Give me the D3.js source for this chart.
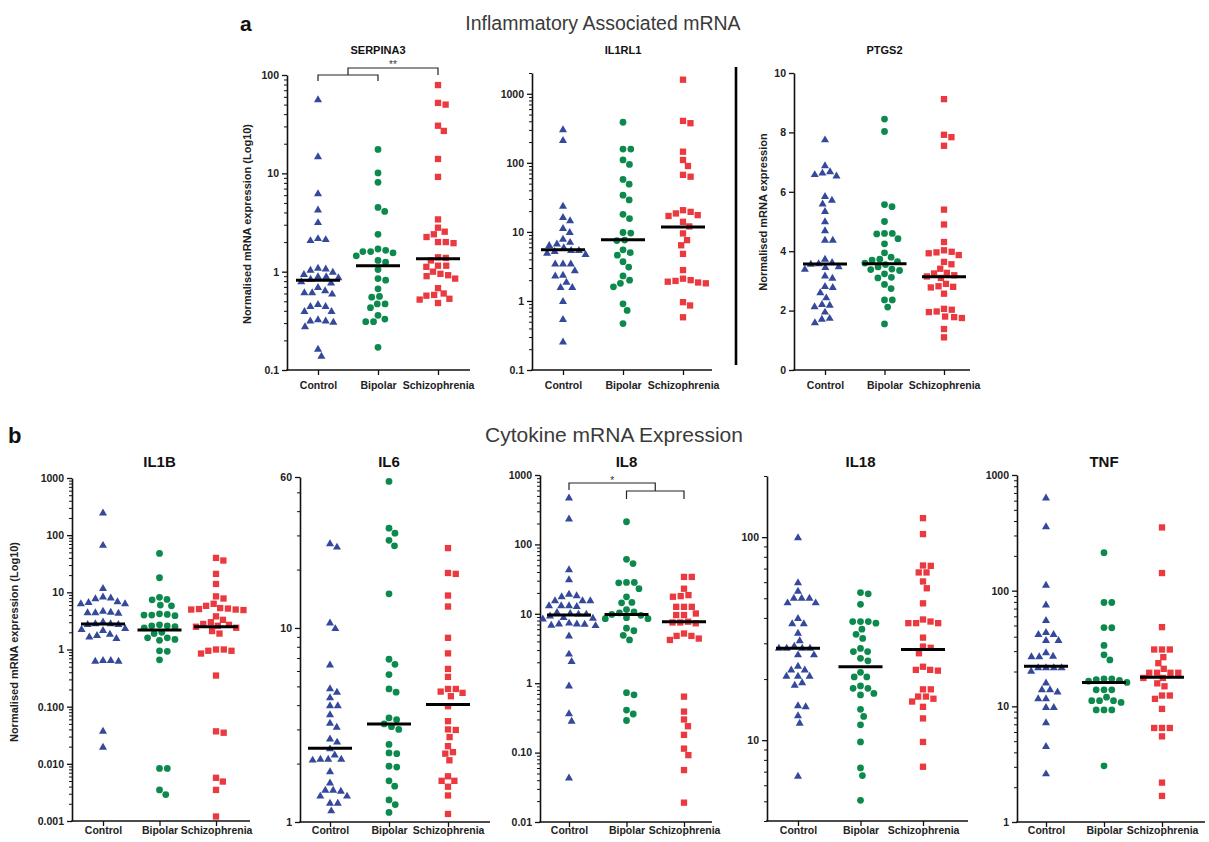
<!DOCTYPE html>
<html>
<head>
<meta charset="utf-8">
<script src="https://cdn.jsdelivr.net/npm/d3@7"></script>
<style>
  html, body { margin: 0; padding: 0; background: #fff; }
  svg { display: block; font-family: "Liberation Sans", Arial, sans-serif; }
</style>
</head>
<body>
<script>
// ---------------- DATA ----------------
const groups = ["Control", "Bipolar", "Schizophrenia"];

const SERPINA3_Control = [57, 15, 6.3, 4.3, 3.2, 2.2, 2.1, 2.15, 1.1, 1.08, 1.05, 1.0, 0.95, 0.9, 0.9, 0.88, 0.85, 0.8, 0.78, 0.7, 0.65, 0.62, 0.62, 0.6, 0.47, 0.45, 0.45, 0.4, 0.4, 0.33, 0.32, 0.32, 0.31, 0.28, 0.165, 0.14];
const SERPINA3_Bipolar = [17.5, 10.1, 8.1, 4.5, 4.1, 2.4, 1.7, 1.65, 1.6, 1.6, 1.55, 1.45, 1.3, 1.25, 1.05, 0.85, 0.82, 0.67, 0.56, 0.55, 0.47, 0.47, 0.43, 0.36, 0.33, 0.31, 0.31, 0.17];
const SERPINA3_Schizophrenia = [79, 52, 50, 30.5, 27, 14, 9.2, 3.4, 2.8, 2.55, 2.4, 2.25, 2.0, 2.0, 1.95, 1.4, 1.38, 1.3, 1.15, 1.15, 1.12, 1.0, 0.95, 0.92, 0.9, 0.85, 0.68, 0.6, 0.58, 0.57, 0.53, 0.52, 0.48];
const SERPINA3_medians = [0.82, 1.15, 1.35];
const SERPINA3_ticks = [0.1, 1, 10, 100];
const SERPINA3_tickLabels = ["0.1", "1", "10", "100"];

const IL1RL1_Control = [307, 215, 24, 16.5, 14.8, 11.4, 10, 8, 7.2, 6.8, 6.5, 6, 5.5, 5.5, 5.3, 5, 4.8, 3.5, 3.5, 3.5, 2.8, 2.4, 2.35, 1.9, 1.6, 1.6, 1.0, 0.55, 0.26];
const IL1RL1_Bipolar = [387, 158, 158, 110, 95, 57.5, 49, 34, 29, 18, 15.6, 9.8, 9.6, 7.6, 7.5, 5.5, 5, 4.6, 3.7, 3.1, 2.3, 2.0, 1.8, 1.6, 0.91, 0.73, 0.47];
const IL1RL1_Schizophrenia = [1600, 405, 375, 145, 110, 90, 67, 63, 20.6, 19.5, 18.5, 17.5, 17, 14, 12, 9.5, 7.6, 6.4, 4.8, 2.8, 2.1, 2.0, 1.9, 1.85, 1.8, 1.95, 0.96, 0.86, 0.58];
const IL1RL1_medians = [5.5, 7.7, 11.8];
const IL1RL1_ticks = [0.1, 1, 10, 100, 1000];
const IL1RL1_tickLabels = ["0.1", "1", "10", "100", "1000"];

const PTGS2_Control = [7.77, 6.9, 6.7, 6.65, 6.6, 6.55, 5.86, 5.74, 5.61, 5.36, 5.01, 4.71, 4.39, 4.39, 3.75, 3.64, 3.6, 3.58, 3.5, 3.47, 3.41, 3.19, 3.11, 2.83, 2.8, 2.62, 2.45, 2.2, 2.15, 2.23, 1.97, 1.76, 1.73, 1.61];
const PTGS2_Bipolar = [8.45, 8.03, 5.57, 5.5, 5.0, 4.6, 4.6, 4.58, 4.42, 4.25, 3.94, 3.8, 3.73, 3.7, 3.65, 3.6, 3.55, 3.47, 3.4, 3.38, 3.35, 3.24, 3.12, 3.1, 2.88, 2.74, 2.36, 2.36, 2.12, 1.55];
const PTGS2_Schizophrenia = [9.12, 7.92, 7.84, 7.55, 5.4, 4.9, 4.31, 4.03, 3.98, 3.96, 3.93, 3.87, 3.64, 3.56, 3.41, 3.27, 3.25, 3.19, 3.15, 3.1, 2.9, 2.82, 2.8, 2.78, 2.57, 2.06, 2.03, 1.97, 1.95, 1.8, 1.78, 1.75, 1.38, 1.1];
const PTGS2_medians = [3.57, 3.58, 3.14];
const PTGS2_ticks = [0, 2, 4, 6, 8, 10];
const PTGS2_tickLabels = ["0", "2", "4", "6", "8", "10"];

const IL1B_Control = [250, 68, 12, 8.5, 8.2, 7.9, 7, 6.8, 6.5, 6.5, 4.8, 4.6, 4.5, 4.5, 4.4, 3.1, 2.9, 2.9, 2.8, 2.8, 2.4, 2.3, 2.2, 1.9, 1.8, 1.7, 1.6, 0.66, 0.64, 0.64, 0.66, 0.038, 0.02];
const IL1B_Bipolar = [48, 18, 8.2, 7.5, 7.4, 6, 5.8, 4.2, 4.1, 4.0, 4.0, 3.9, 2.7, 2.6, 2.6, 2.5, 2.4, 2.0, 1.9, 1.6, 1.6, 1.5, 1.45, 0.95, 0.93, 0.66, 0.0083, 0.0083, 0.0035, 0.0029];
const IL1B_Schizophrenia = [40, 36, 21, 14, 8.5, 7.8, 6.3, 5.8, 5.3, 5.2, 5.1, 5.0, 5.0, 4.9, 3.8, 3.3, 3.0, 2.8, 2.7, 2.6, 2.5, 2.4, 2.1, 1.9, 1.0, 1.0, 0.95, 0.95, 0.85, 0.35, 0.037, 0.035, 0.0057, 0.0049, 0.0035, 0.0012];
const IL1B_medians = [2.8, 2.2, 2.5];
const IL1B_ticks = [0.001, 0.01, 0.1, 1, 10, 100, 1000];
const IL1B_tickLabels = ["0.001", "0.010", "0.100", "1", "10", "100", "1000"];

const IL6_Control = [27.4, 26.3, 10.7, 10, 6.5, 4.9, 4.7, 4.4, 4.0, 4.0, 3.6, 3.25, 3.1, 2.7, 2.6, 2.4, 2.23, 2.12, 2.12, 2.12, 2.1, 1.83, 1.6, 1.47, 1.47, 1.45, 1.37, 1.37, 1.26, 1.26, 1.15];
const IL6_Bipolar = [56.9, 32.7, 30.8, 28.3, 26.5, 15, 6.9, 6.5, 5.75, 4.85, 4.67, 3.44, 3.37, 3.2, 3.1, 3.0, 2.51, 2.27, 2.25, 1.94, 1.92, 1.63, 1.53, 1.3, 1.23, 1.12];
const IL6_Schizophrenia = [25.8, 19, 19.2, 14.7, 12.9, 8.9, 7.4, 6.15, 5.6, 4.85, 4.85, 4.63, 4.7, 4.45, 3.95, 3.31, 3.0, 2.98, 2.74, 2.46, 2.29, 2.25, 2.08, 1.72, 1.63, 1.63, 1.52, 1.37, 1.1];
const IL6_medians = [2.4, 3.2, 4.03];
const IL6_ticks = [1, 10, 60];
const IL6_tickLabels = ["1", "10", "60"];

const IL8_Control = [476, 237, 44, 31.6, 19.6, 18.6, 18, 15.7, 15.7, 15.7, 13.3, 13.3, 13.3, 13, 10.7, 10.3, 10.1, 10.1, 9.5, 9.0, 8.8, 8.6, 7.5, 7.3, 7.3, 7.2, 7, 6.9, 4.9, 2.68, 2.1, 0.93, 0.37, 0.29, 0.044];
const IL8_Bipolar = [212, 61, 53, 28.3, 28.3, 28, 23, 17.6, 14.4, 14.6, 11.5, 10.7, 10.3, 9.8, 9.5, 8.8, 8.5, 8.5, 6.2, 5.7, 4.9, 4.2, 0.73, 0.68, 0.41, 0.36, 0.29];
const IL8_Schizophrenia = [34, 34, 23, 18.6, 17.6, 18, 12.6, 12.6, 12.6, 10.1, 9.6, 9.6, 7.7, 7.5, 7.5, 7.3, 5.2, 4.8, 4.8, 4.4, 4.2, 0.64, 0.39, 0.3, 0.24, 0.18, 0.114, 0.092, 0.056, 0.019];
const IL8_medians = [9.6, 9.8, 7.7];
const IL8_ticks = [0.01, 0.1, 1, 10, 100, 1000];
const IL8_tickLabels = ["0.01", "0.10", "1", "10", "100", "1000"];

const IL18_Control = [100, 60, 54.5, 50.4, 50.4, 50.4, 47.8, 47.8, 40, 37.7, 37.7, 33.9, 31.1, 29.2, 28.6, 28.6, 28.6, 28.6, 26.5, 26.5, 23.3, 22.3, 22.3, 20.8, 20.8, 20.8, 19.3, 18.8, 14.9, 14.7, 13.3, 12.2, 6.7];
const IL18_Bipolar = [53.3, 52.6, 46.7, 38.4, 38.4, 38.4, 37.7, 35.2, 33.2, 31.7, 28.3, 27.3, 27.3, 25.3, 24.6, 21.6, 20.5, 20.5, 18.5, 18, 18, 17, 16.7, 14.2, 13.1, 11.9, 9.8, 7.3, 6.7, 5.06];
const IL18_Schizophrenia = [124, 103.5, 72.2, 72.5, 67, 67, 60.5, 56, 47.2, 39.3, 38.4, 37.7, 37.7, 37.7, 32, 28.9, 28.5, 26.8, 23, 22.2, 22.2, 22, 17.8, 17.8, 16.4, 16.4, 16, 15.5, 14.6, 12.8, 9.8, 7.4];
const IL18_medians = [28.4, 23.0, 28.0];
const IL18_ticks = [10, 100];
const IL18_tickLabels = ["10", "100"];

const TNF_Control = [640, 361, 113, 76, 56, 42.4, 42.4, 44, 37.6, 37.6, 29.4, 27.2, 27.2, 27.5, 21.8, 21.8, 21.8, 21.8, 20.4, 16.1, 14.1, 14.1, 13.5, 11.8, 11.8, 9.9, 9.9, 7.3, 4.56, 2.64];
const TNF_Bipolar = [213, 79, 79, 48, 47.8, 33.6, 27.9, 25.2, 17.3, 17.3, 17, 16.8, 16.5, 16.1, 13.9, 13.9, 13.9, 12, 11.2, 11.2, 11.2, 10.8, 9.3, 9.3, 9.3, 3.06];
const TNF_Schizophrenia = [352, 142, 48.4, 31, 31, 31, 26.6, 23.6, 21.1, 19.5, 19.5, 19.5, 19.5, 17.6, 17.6, 15.8, 14.9, 12.4, 12.4, 11.6, 9.5, 6.5, 6.5, 6.5, 5.5, 2.19, 1.68];
const TNF_medians = [22.2, 16.1, 17.8];
const TNF_ticks = [1, 10, 100, 1000];
const TNF_tickLabels = ["1", "10", "100", "1000"];

// ---------------- STYLE / LAYOUT ----------------
const colors = ["#35499c", "#0c8a4d", "#ea3a3f"];
const symbols = [d3.symbolTriangle, d3.symbolCircle, d3.symbolSquare];
const symSizes = [28, 36, 40];
const FONT = '"Liberation Sans", Arial, sans-serif';

const W = 1209, H = 842;
const svg = d3.select("body").append("svg").attr("width", W).attr("height", H);
svg.append("rect").attr("width", W).attr("height", H).attr("fill", "#fff");

const panels = [
  { title: "SERPINA3", data: [SERPINA3_Control, SERPINA3_Bipolar, SERPINA3_Schizophrenia], med: SERPINA3_medians,
    log: true, domain: [0.1, 100], range: [370, 75], ax: 287, xEnd: 470, c: [318, 438],
    ticks: SERPINA3_ticks, labels: SERPINA3_tickLabels, titleY: 54, titleSize: 11, catY: 390,
    ylabel: "Normalised mRNA expression (Log10)", ylabelX: 247, ylabelY: 224 },
  { title: "IL1RL1", data: [IL1RL1_Control, IL1RL1_Bipolar, IL1RL1_Schizophrenia], med: IL1RL1_medians,
    log: true, domain: [0.1, 2000], range: [370, 73], ax: 532, xEnd: 712, c: [563, 683],
    ticks: IL1RL1_ticks, labels: IL1RL1_tickLabels, titleY: 54, titleSize: 11, catY: 390 },
  { title: "PTGS2", data: [PTGS2_Control, PTGS2_Bipolar, PTGS2_Schizophrenia], med: PTGS2_medians,
    log: false, domain: [0, 10], range: [370, 73], ax: 794, xEnd: 970, c: [825, 944],
    ticks: PTGS2_ticks, labels: PTGS2_tickLabels, titleY: 54, titleSize: 11, catY: 390,
    ylabel: "Normalised mRNA expression", ylabelX: 763, ylabelY: 212 },
  { title: "IL1B", data: [IL1B_Control, IL1B_Bipolar, IL1B_Schizophrenia], med: IL1B_medians,
    log: true, domain: [0.001, 1000], range: [821, 478], ax: 72, xEnd: 250, c: [103, 216],
    ticks: IL1B_ticks, labels: IL1B_tickLabels, titleY: 467, titleSize: 15, catY: 835,
    ylabel: "Normalised mRNA expression (Log10)", ylabelX: 14, ylabelY: 642 },
  { title: "IL6", data: [IL6_Control, IL6_Bipolar, IL6_Schizophrenia], med: IL6_medians,
    log: true, domain: [1, 60], range: [822, 477], ax: 300, xEnd: 490, c: [330, 448],
    ticks: IL6_ticks, labels: IL6_tickLabels, titleY: 467, titleSize: 15, catY: 835 },
  { title: "IL8", data: [IL8_Control, IL8_Bipolar, IL8_Schizophrenia], med: IL8_medians,
    log: true, domain: [0.01, 1000], range: [822, 475], ax: 540, xEnd: 712, c: [569, 684],
    ticks: IL8_ticks, labels: IL8_tickLabels, titleY: 467, titleSize: 15, catY: 835 },
  { title: "IL18", data: [IL18_Control, IL18_Bipolar, IL18_Schizophrenia], med: IL18_medians,
    log: true, domain: [4, 200], range: [821, 476], ax: 767, xEnd: 968, c: [798, 923],
    ticks: IL18_ticks, labels: IL18_tickLabels, titleY: 467, titleSize: 15, catY: 835 },
  { title: "TNF", data: [TNF_Control, TNF_Bipolar, TNF_Schizophrenia], med: TNF_medians,
    log: true, domain: [1, 1000], range: [822, 475], ax: 1017, xEnd: 1205, c: [1046, 1162],
    ticks: TNF_ticks, labels: TNF_tickLabels, titleY: 467, titleSize: 15, catY: 835 }
];

function beeswarm(vals, y, d) {
  const pts = vals.map(v => ({ v, py: y(v) })).sort((a, b) => a.py - b.py);
  const placed = [];
  for (const p of pts) {
    const near = placed.filter(q => Math.abs(q.py - p.py) < d);
    const cands = [0];
    for (const q of near) {
      const dx = Math.sqrt(d * d - (q.py - p.py) ** 2);
      cands.push(q.dx + dx, q.dx - dx);
    }
    cands.sort((a, b) => Math.abs(a) - Math.abs(b) || b - a);
    p.dx = 0;
    for (const c of cands) {
      if (near.every(q => (q.dx - c) ** 2 + (q.py - p.py) ** 2 >= d * d - 0.01)) { p.dx = c; break; }
    }
    placed.push(p);
  }
  return placed;
}

function minorTicks(domain, majors) {
  const out = [];
  const lo = Math.floor(Math.log10(domain[0])), hi = Math.ceil(Math.log10(domain[1]));
  for (let e = lo; e <= hi; e++) {
    for (let k = 1; k <= 9; k++) {
      const v = +(k * Math.pow(10, e)).toPrecision(6);
      if (v >= domain[0] * 0.999 && v <= domain[1] * 1.001 && !majors.some(m => Math.abs(m - v) / v < 1e-6)) out.push(v);
    }
  }
  return out;
}

const scales = {};

panels.forEach(P => {
  const y = (P.log ? d3.scaleLog() : d3.scaleLinear()).domain(P.domain).range(P.range);
  const x = d3.scalePoint().domain(groups).range(P.c);
  scales[P.title] = { x, y };
  const g = svg.append("g");

  // y axis
  const yAxis = g.append("g").attr("transform", `translate(${P.ax},0)`)
    .call(d3.axisLeft(y).tickValues(P.ticks).tickFormat((d, i) => P.labels[i]).tickSize(5).tickSizeOuter(0).tickPadding(3));
  yAxis.select(".domain").attr("stroke", "#111").attr("stroke-width", 1.6);
  yAxis.selectAll(".tick line").attr("stroke", "#111").attr("stroke-width", 1.3);
  yAxis.selectAll(".tick text").attr("font-family", FONT).attr("font-size", 10.5).attr("font-weight", "bold").attr("fill", "#222");
  if (P.log) {
    const mAxis = g.append("g").attr("transform", `translate(${P.ax},0)`)
      .call(d3.axisLeft(y).tickValues(minorTicks(P.domain, P.ticks)).tickFormat("").tickSize(3).tickSizeOuter(0));
    mAxis.select(".domain").remove();
    mAxis.selectAll(".tick line").attr("stroke", "#111").attr("stroke-width", 1);
  }

  // x axis
  const y0 = P.range[0];
  g.append("line").attr("x1", P.ax - 0.8).attr("x2", P.xEnd).attr("y1", y0).attr("y2", y0)
    .attr("stroke", "#111").attr("stroke-width", 1.6);
  const xAxis = g.append("g").attr("transform", `translate(0,${y0})`)
    .call(d3.axisBottom(x).tickSize(5).tickSizeOuter(0).tickPadding(P.catY - y0 - 13));
  xAxis.select(".domain").remove();
  xAxis.selectAll(".tick line").attr("stroke", "#111").attr("stroke-width", 1.3);
  xAxis.selectAll(".tick text").attr("font-family", FONT).attr("font-size", 10.5).attr("font-weight", "bold").attr("fill", "#222");

  // title
  g.append("text").attr("x", x("Bipolar")).attr("y", P.titleY).attr("text-anchor", "middle")
    .attr("font-family", FONT).attr("font-size", P.titleSize).attr("font-weight", "bold").attr("fill", "#111").text(P.title);

  // y label
  if (P.ylabel) {
    g.append("text").attr("transform", `translate(${P.ylabelX},${P.ylabelY}) rotate(-90)`)
      .attr("text-anchor", "middle").attr("dy", "0.35em")
      .attr("font-family", FONT).attr("font-size", 11).attr("font-weight", "bold").attr("fill", "#222").text(P.ylabel);
  }

  // points
  P.data.forEach((vals, gi) => {
    const cx = x(groups[gi]);
    const pts = beeswarm(vals, y, 7.8);
    g.append("g").selectAll("path").data(pts).join("path")
      .attr("transform", d => `translate(${cx + d.dx},${d.py + (gi === 0 ? 0.8 : 0)})`)
      .attr("d", d3.symbol().type(symbols[gi]).size(symSizes[gi]))
      .attr("fill", colors[gi]);
  });

  // medians
  g.append("g").selectAll("line").data(P.med).join("line")
    .attr("x1", (d, i) => x(groups[i]) - 22).attr("x2", (d, i) => x(groups[i]) + 22)
    .attr("y1", d => y(d)).attr("y2", d => y(d))
    .attr("stroke", "#000").attr("stroke-width", 3);
});

// significance brackets
{
  const { x, y } = scales.SERPINA3;
  const yTop = y(100);
  const mid = (x("Control") + x("Bipolar")) / 2;
  svg.append("path").attr("d", `M${x("Control")},${yTop + 6}V${yTop}H${x("Bipolar")}V${yTop + 6}`)
    .attr("fill", "none").attr("stroke", "#222").attr("stroke-width", 1.2);
  svg.append("path").attr("d", `M${mid},${yTop}V${yTop - 7}H${x("Schizophrenia")}V${yTop}`)
    .attr("fill", "none").attr("stroke", "#222").attr("stroke-width", 1.2);
  svg.append("text").attr("x", (mid + x("Schizophrenia")) / 2).attr("y", yTop - 7)
    .attr("text-anchor", "middle").attr("font-family", FONT).attr("font-size", 10).attr("fill", "#333").text("**");
}
{
  const { x, y } = scales.IL8;
  const yTop = y(1000) + 8;
  const mid = (x("Bipolar") + x("Schizophrenia")) / 2;
  svg.append("path").attr("d", `M${x("Control")},${yTop + 7}V${yTop}H${mid}V${yTop + 8}`)
    .attr("fill", "none").attr("stroke", "#222").attr("stroke-width", 1.2);
  svg.append("path").attr("d", `M${x("Bipolar")},${yTop + 16}V${yTop + 8}H${x("Schizophrenia")}V${yTop + 16}`)
    .attr("fill", "none").attr("stroke", "#222").attr("stroke-width", 1.2);
  svg.append("text").attr("x", (x("Control") + mid) / 2).attr("y", yTop + 1)
    .attr("text-anchor", "middle").attr("font-family", FONT).attr("font-size", 10).attr("fill", "#333").text("*");
}

// vertical separator
svg.append("line").attr("x1", 736).attr("x2", 736).attr("y1", 67).attr("y2", 365)
  .attr("stroke", "#000").attr("stroke-width", 2.6);

// section labels & headings
svg.append("text").attr("x", 240).attr("y", 31).attr("font-family", FONT).attr("font-size", 21)
  .attr("font-weight", "bold").attr("fill", "#111").text("a");
svg.append("text").attr("x", 603).attr("y", 30).attr("text-anchor", "middle").attr("font-family", FONT)
  .attr("font-size", 19.5).attr("fill", "#3a3a3a").text("Inflammatory Associated mRNA");
svg.append("text").attr("x", 8).attr("y", 443).attr("font-family", FONT).attr("font-size", 22)
  .attr("font-weight", "bold").attr("fill", "#111").text("b");
svg.append("text").attr("x", 614).attr("y", 442).attr("text-anchor", "middle").attr("font-family", FONT)
  .attr("font-size", 21).attr("fill", "#3a3a3a").text("Cytokine mRNA Expression");
</script>
</body>
</html>
